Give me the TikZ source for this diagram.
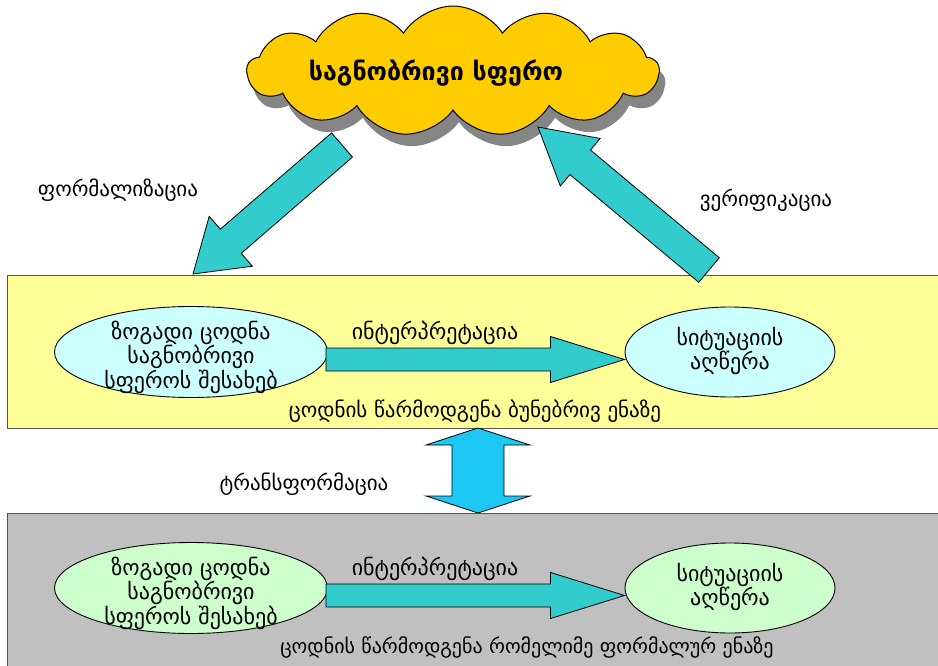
\documentclass[tikz,border=0pt]{standalone}
\usepackage{fontspec}
\setmainfont{DejaVu Sans}
\usetikzlibrary{shapes.geometric,shapes.symbols,calc,shadows}
\definecolor{cloudc}{HTML}{FFCC00}
\definecolor{shadowc}{HTML}{858585}
\definecolor{tealc}{HTML}{33CCCC}
\definecolor{bluec}{HTML}{1EC8F5}
\definecolor{yboxc}{HTML}{FFFF99}
\definecolor{gboxc}{HTML}{C0C0C0}
\definecolor{ecyan}{HTML}{CCFFFF}
\definecolor{egreen}{HTML}{CCFFCC}
\definecolor{boxline}{HTML}{555555}
\newcommand\blkarrow[6]{%
  \coordinate (#2#3hb) at ($(#3)!#6!(#2)$);
  \draw[#1] ($(#2)!#4!90:(#3)$) -- ($(#2#3hb)!#4!-90:(#2)$) -- ($(#2#3hb)!#5!-90:(#2)$) -- (#3)
    -- ($(#2#3hb)!#5!90:(#2)$) -- ($(#2#3hb)!#4!90:(#2)$) -- ($(#2)!#4!-90:(#3)$) -- cycle;}
\newcommand\dblblk[6]{%
  \coordinate (#2#3ha) at ($(#2)!#6!(#3)$);
  \coordinate (#2#3hb) at ($(#3)!#6!(#2)$);
  \draw[#1] (#2) -- ($(#2#3ha)!#5!90:(#3)$) -- ($(#2#3ha)!#4!90:(#3)$) -- ($(#2#3hb)!#4!-90:(#2)$)
    -- ($(#2#3hb)!#5!-90:(#2)$) -- (#3) -- ($(#2#3hb)!#5!90:(#2)$) -- ($(#2#3hb)!#4!90:(#2)$)
    -- ($(#2#3ha)!#4!-90:(#3)$) -- ($(#2#3ha)!#5!-90:(#3)$) -- cycle;}
\tikzset{
  lbl/.style={font=\fontsize{21}{24}\selectfont, inner sep=0pt},
  lblb/.style={font=\fontsize{22}{24}\selectfont, inner sep=0pt},
  lbls/.style={font=\fontsize{20}{24}\selectfont, inner sep=0pt},
  etxt/.style={align=center, inner sep=0pt, font=\fontsize{22}{22.5}\selectfont},
  bigbox/.style={draw=boxline, line width=1.3pt, anchor=north west, minimum width=940pt, minimum height=153pt, inner sep=0pt},
  ell/.style={ellipse, draw=black, line width=0.9pt, inner sep=0pt},
  teal/.style={draw=black, line width=0.8pt, fill=tealc},
  blue/.style={draw=black, line width=0.8pt, fill=bluec}
}
\begin{document}
\begin{tikzpicture}[x=1pt,y=-1pt]
\useasboundingbox (0,0) rectangle (938,666);
\fill[white] (0,0) rectangle (938,666);
% boxes
\node[bigbox, fill=yboxc] (box1) at (7,275) {};
\node[bigbox, fill=gboxc, minimum height=170pt] (box2) at (7,513) {};
% cloud
\node[cloud, cloud puffs=13, cloud puff arc=115, aspect=3.2, draw=black, line width=1pt, fill=cloudc,
  minimum width=412pt, minimum height=130pt,
  drop shadow={shadow xshift=6pt, shadow yshift=-12pt, fill=shadowc, opacity=1}] (cloud) at (453,71) {};
\node[font=\fontsize{25}{28}\selectfont\bfseries, inner sep=0pt] (cloudt) at (436,73) {საგნობრივი სფერო};
% diagonal arrows
\coordinate (fA) at (342,145);
\coordinate (fB) at (193,274);
\coordinate (vA) at (709,270);
\coordinate (vB) at (538,127);
\blkarrow{teal}{fA}{fB}{16pt}{33pt}{50pt}
\blkarrow{teal}{vA}{vB}{16pt}{31pt}{55pt}
% ellipses
\node[ell, fill=ecyan, minimum width=273pt, minimum height=91pt] (L1) at (191,352) {};
\node[etxt] (L1t) at (191,357) {ზოგადი ცოდნა\\საგნობრივი\\სფეროს შესახებ};
\node[ell, fill=ecyan, minimum width=210pt, minimum height=90pt] (R1) at (730,352) {};
\node[etxt] (R1t) at (730,351) {სიტუაციის\\აღწერა};
\node[ell, fill=egreen, minimum width=273pt, minimum height=91pt] (L2) at (191,588) {};
\node[etxt] (L2t) at (191,593) {ზოგადი ცოდნა\\საგნობრივი\\სფეროს შესახებ};
\node[ell, fill=egreen, minimum width=210pt, minimum height=90pt] (R2) at (730,588) {};
\node[etxt] (R2t) at (730,587) {სიტუაციის\\აღწერა};
% middle arrows
\coordinate (m1a) at ($(L1.east)+(-2,7.5)$);
\coordinate (m1b) at (R1.west |- m1a);
\coordinate (m2a) at ($(L2.east)+(-2,7.5)$);
\coordinate (m2b) at (R2.west |- m2a);
\blkarrow{teal}{m1a}{m1b}{11.5pt}{23pt}{74pt}
\blkarrow{teal}{m2a}{m2b}{11.5pt}{23pt}{74pt}
% double arrow
\coordinate (dT) at (478,428);
\coordinate (dB) at (478,513);
\dblblk{blue}{dT}{dB}{26pt}{52pt}{17pt}
% labels
\node[lbl] (tform) at (118,190) {ფორმალიზაცია};
\node[lbl] (tver) at (766,200) {ვერიფიკაცია};
\node[lbl] (ttrans) at (304,484) {ტრანსფორმაცია};
\node[lblb] (tint1) at (435,333) {ინტერპრეტაცია};
\node[lblb] (tint2) at (435,569) {ინტერპრეტაცია};
\node[lbl] (tbot1) at (475,411) {ცოდნის წარმოდგენა ბუნებრივ ენაზე};
\node[lbls] (tbot2) at (527,647) {ცოდნის წარმოდგენა რომელიმე ფორმალურ ენაზე};
\end{tikzpicture}
\end{document}
